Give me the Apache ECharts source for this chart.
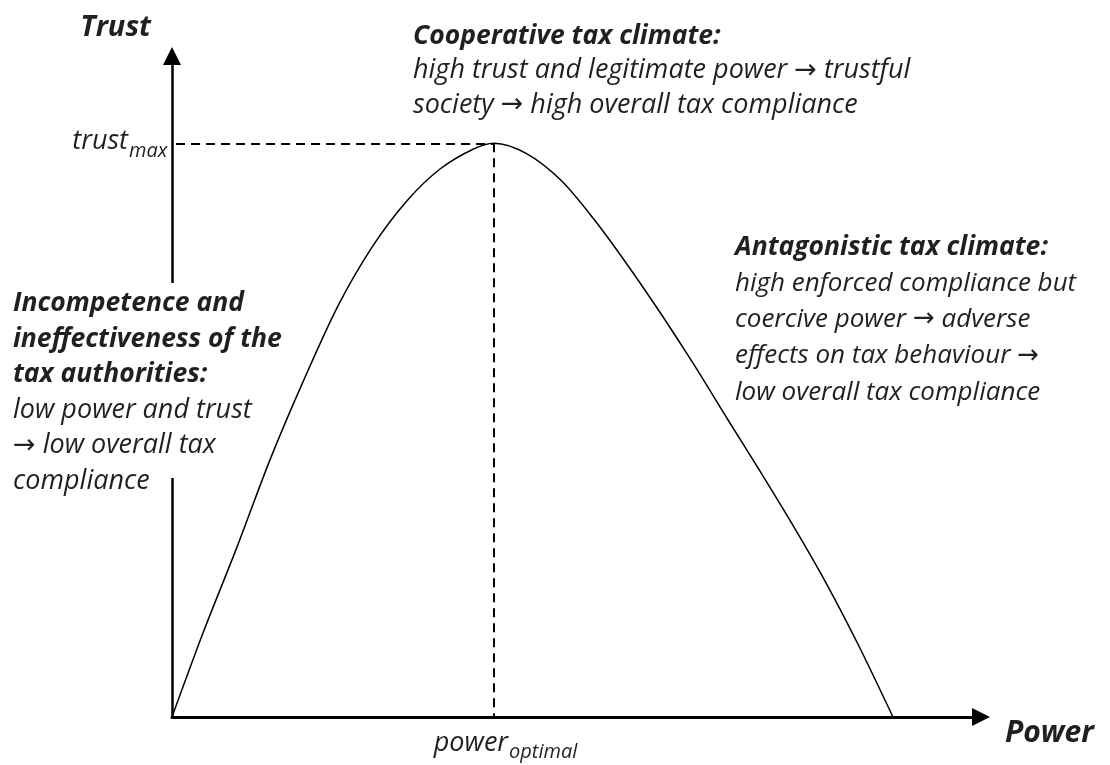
<!DOCTYPE html>
<html>
<head>
<meta charset="utf-8">
<script src="https://cdn.jsdelivr.net/npm/echarts@6/dist/echarts.min.js"></script>
<style>
  html, body { margin: 0; padding: 0; background: #fff; }
  #chart { width: 1110px; height: 765px; }
</style>
</head>
<body>
<div id="chart"></div>
<script>
// curve: power on x, trust on y (both 0..100)
const power = [0, 3.83, 8.03, 12.11, 16.19, 20.52, 24.85, 29.05, 33.13, 37.21, 39.80,
  43.88, 48.08, 52.16, 56.24, 60.44, 64.52, 68.60, 72.68, 76.76, 80.84, 84.92, 89.12]
const trust = [0, 12.7, 25.7, 38.9, 50.7, 62.2, 71.3, 78.1, 82.9, 85.9, 86.8,
  85.2, 81.2, 75.3, 68.5, 61.0, 53.3, 45.2, 37.2, 29.0, 20.3, 10.7, 0]

const coopLines = ['high trust and legitimate power \u2192 trustful', 'society \u2192 high overall tax compliance']
const antaLines = ['high enforced compliance but', 'coercive power \u2192 adverse',
  'effects on tax behaviour \u2192', 'low overall tax compliance']
const incoTitle = ['Incompetence and', 'ineffectiveness of the', 'tax authorities:']
const incoLines = ['low power and trust', '\u2192 low overall tax', 'compliance']

const FONT = '"Open Sans"'
const INK = '#231f20'

// peak of the curve drives the dashed guide lines
const peakIdx = trust.indexOf(Math.max(...trust))
const peak = [power[peakIdx], trust[peakIdx]]

// arrows get their own token so they come out wide like in the original
function plain(t) {
  return '{n|' + t.split('\u2192').join('}{a|\u2192}{n|') + '}'
}

function block(title, lines, lh, size) {
  return {
    text: [].concat(title.map((t) => '{b|' + t + '}'), lines.map(plain)).join('\n'),
    verticalAlign: 'top',
    rich: {
      b: { font: 'italic bold 26.5px ' + FONT, fill: INK, lineHeight: lh },
      n: { font: 'italic ' + size + 'px ' + FONT, fill: INK, lineHeight: lh },
      a: { font: size + 'px "DejaVu Sans"', fill: INK, lineHeight: lh },
    },
  }
}

const arrowLine = (w) => ({
  lineStyle: { color: '#000', width: w },
  symbol: ['none', 'triangle'],
  symbolSize: [18, 18],
})

const chart = echarts.init(document.getElementById('chart'), null, { renderer: 'canvas' })

chart.setOption({
  animation: false,
  backgroundColor: '#fff',
  grid: { left: 172, right: 129, top: 56, bottom: 48 },
  xAxis: {
    type: 'value', min: 0, max: 100,
    axisLine: arrowLine(3),
    axisTick: { show: false }, axisLabel: { show: false }, splitLine: { show: false },
  },
  yAxis: {
    type: 'value', min: 0, max: 100,
    axisLine: arrowLine(2.5),
    axisTick: { show: false }, axisLabel: { show: false }, splitLine: { show: false },
  },
  series: [{
    type: 'line',
    data: power.map((p, i) => [p, trust[i]]),
    smooth: 0.3,
    symbol: 'none',
    lineStyle: { color: '#000', width: 1.5 },
    markLine: {
      silent: true,
      symbol: 'none',
      label: { show: false },
      lineStyle: { color: '#000', width: 2, type: [9, 6] },
      data: [
        [{ coord: [0.5, peak[1]] }, { coord: peak }],
        [{ coord: peak }, { coord: [peak[0], 0] }],
      ],
    },
  }],
  graphic: [
    // white box behind the left note, it breaks the y axis
    { type: 'rect', z: 100, shape: { x: 165, y: 283, width: 17, height: 195 }, style: { fill: '#fff' } },
    { type: 'text', z: 101, x: 151, y: 28, style: { text: 'Trust', font: 'italic bold 29px ' + FONT, fill: INK, align: 'right', verticalAlign: 'middle' } },
    { type: 'text', z: 101, x: 1005, y: 733, style: { text: 'Power', font: 'italic bold 30px ' + FONT, fill: INK, align: 'left', verticalAlign: 'middle' } },
    { type: 'text', z: 101, x: 128, y: 141, style: { text: 'trust', font: 'italic 27px ' + FONT, fill: INK, align: 'right', verticalAlign: 'middle' } },
    { type: 'text', z: 101, x: 129, y: 151, style: { text: 'max', font: 'italic 20px ' + FONT, fill: INK, align: 'left', verticalAlign: 'middle' } },
    { type: 'text', z: 101, x: 508, y: 743, style: { text: 'power', font: 'italic 27px ' + FONT, fill: INK, align: 'right', verticalAlign: 'middle' } },
    { type: 'text', z: 101, x: 509, y: 752, style: { text: 'optimal', font: 'italic 20px ' + FONT, fill: INK, align: 'left', verticalAlign: 'middle' } },
    { type: 'text', z: 101, x: 413, y: 19, style: block(['Cooperative tax climate:'], coopLines, 34.5, 27) },
    { type: 'text', z: 101, x: 735, y: 229, style: block(['Antagonistic tax climate:'], antaLines, 36.25, 26) },
    { type: 'text', z: 101, x: 13, y: 286, style: block(incoTitle, incoLines, 35.5, 27) },
  ],
})
</script>
</body>
</html>
